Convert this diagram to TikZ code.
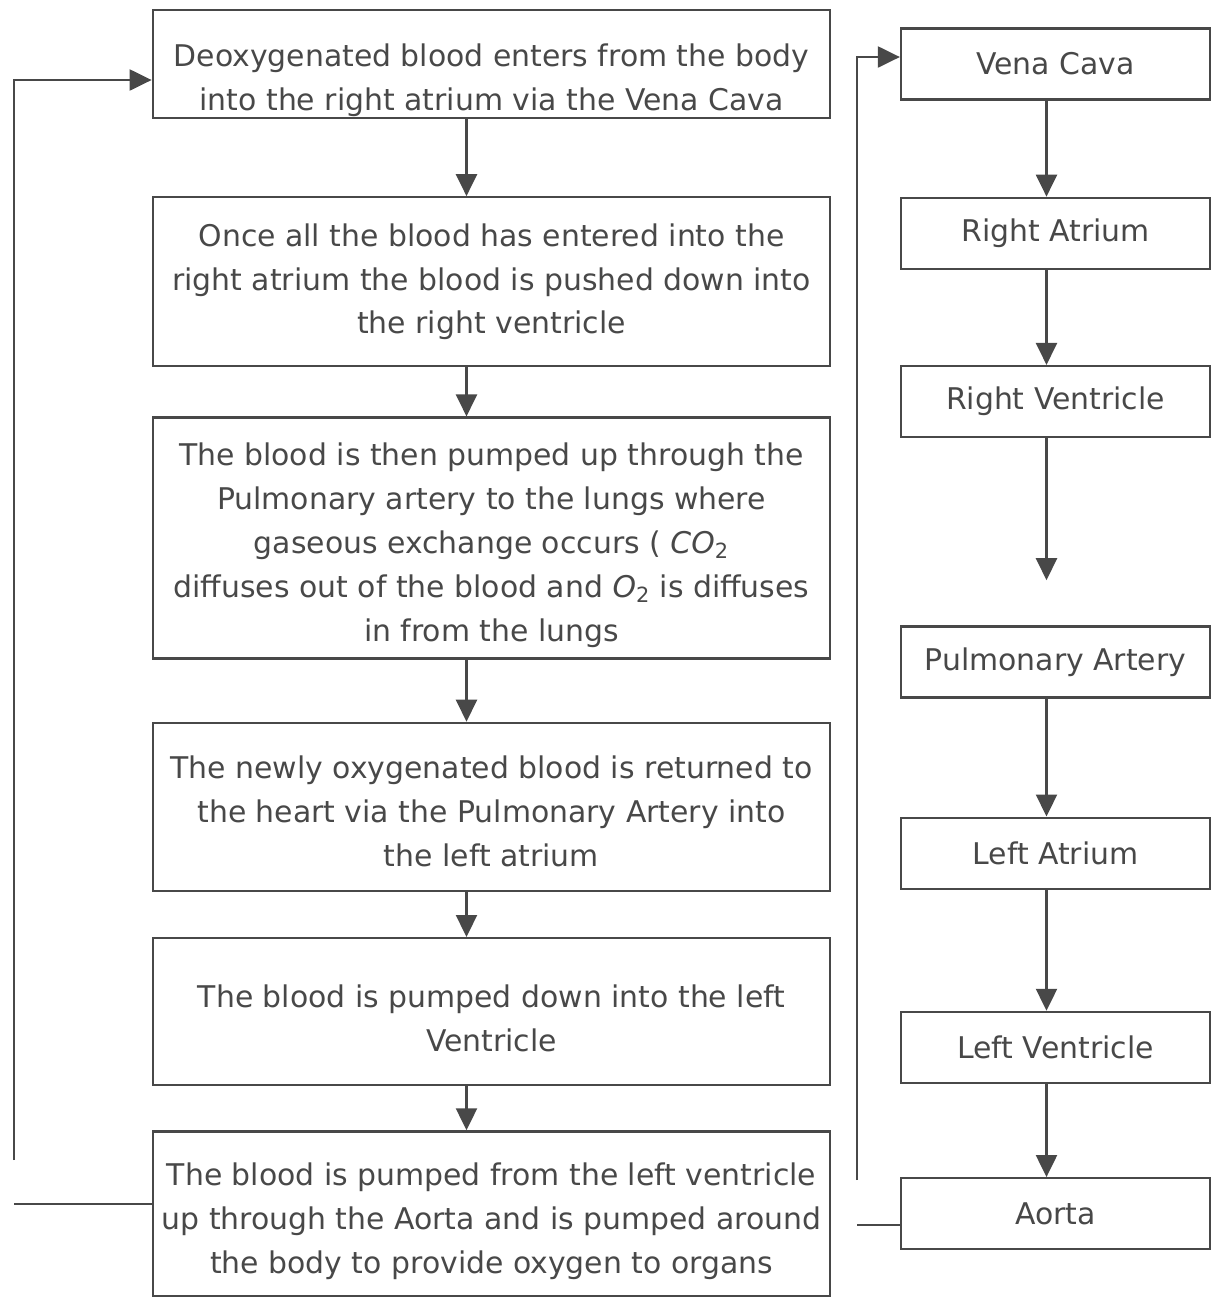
\documentclass[tikz,border=0pt]{standalone}
\usepackage{fontspec}
\setmainfont{DejaVu Sans}
\usetikzlibrary{positioning, arrows.meta}
\definecolor{inkgray}{HTML}{484848}
\newcommand{\dropline}[1]{\rule{0pt}{#1}}

\begin{document}
\begin{tikzpicture}[
    >={Triangle[width=0.42cm,length=0.44cm]},
    stepbox/.style={
        rectangle, draw=inkgray, line width=1.3pt,
        minimum width=13.55cm, minimum height=#1, inner sep=0pt,
        font=\fontsize{17}{25}\selectfont, text=inkgray, align=center
    },
    partbox/.style={
        rectangle, draw=inkgray, line width=1.3pt,
        minimum width=6.18cm, minimum height=1.42cm,
        font=\fontsize{17}{25}\selectfont, text=inkgray
    },
    flow/.style={->, line width=1.3pt, draw=inkgray},
    loop/.style={line width=1.3pt, draw=inkgray}
]
\useasboundingbox (0,0) rectangle (24.44,-25.94);

%% ---- Left column: description of each step ----
\node[stepbox=2.16cm] (enter) at (9.83,-1.28) {%
    \dropline{1.1cm}Deoxygenated blood enters from the body\\
    into the right atrium via the Vena Cava};
\node[stepbox=3.38cm, below=1.54cm of enter] (fill) {%
    Once all the blood has entered into the\\
    right atrium the blood is pushed down into\\
    the right ventricle};
\node[stepbox=4.82cm, below=0.98cm of fill] (lungs) {%
    \dropline{0.74cm}The blood is then pumped up through the\\
    Pulmonary artery to the lungs where\\
    gaseous exchange occurs ( \textit{CO}\textsubscript{2}\\
    diffuses out of the blood and \textit{O}\textsubscript{2} is diffuses\\
    in from the lungs};
\node[stepbox=3.36cm, below=1.24cm of lungs] (return) {%
    \dropline{0.62cm}The newly oxygenated blood is returned to\\
    the heart via the Pulmonary Artery into\\
    the left atrium};
\node[stepbox=2.94cm, below=0.90cm of return] (down) {%
    \dropline{0.74cm}The blood is pumped down into the left\\
    Ventricle};
\node[stepbox=3.30cm, below=0.88cm of down] (body) {%
    \dropline{0.74cm}The blood is pumped from the left ventricle\\
    up through the Aorta and is pumped around\\
    the body to provide oxygen to organs};

\foreach \a/\b in {enter/fill, fill/lungs, lungs/return, return/down, down/body}
    \draw[flow] ([xshift=-0.5cm]\a.south) -- ([xshift=-0.5cm]\b.north);

%% ---- Right column: parts of the heart ----
\node[partbox] (vcava) at (21.11,-1.28) {Vena Cava};
\node[partbox, below=1.92cm of vcava] (ratrium) {Right Atrium};
\node[partbox, below=1.90cm of ratrium] (rventr) {Right Ventricle};
\node[partbox, below=3.74cm of rventr] (partery) {Pulmonary Artery};
\node[partbox, below=2.36cm of partery] (latrium) {Left Atrium};
\node[partbox, below=2.42cm of latrium] (lventr) {Left Ventricle};
\node[partbox, below=1.86cm of lventr] (aorta) {Aorta};

\foreach \a/\b in {vcava/ratrium, ratrium/rventr, partery/latrium, latrium/lventr, lventr/aorta}
    \draw[flow] ([xshift=-0.18cm]\a.south) -- ([xshift=-0.18cm]\b.north);
\draw[flow, shorten >=0.9cm] ([xshift=-0.18cm]rventr.south) -- ([xshift=-0.18cm]partery.north);

%% ---- Return loops ----
\coordinate (lloopbot) at (0.28,-23.2);
\coordinate (lloopend) at (0.28,-24.08);
\draw[flow] (lloopbot) |- ([yshift=-0.32cm]enter.west);
\draw[loop] (body.west |- lloopend) -- (lloopend);

\coordinate (rloopbot) at (17.14,-23.6);
\coordinate (rloopend) at (17.14,-24.5);
\draw[flow] (rloopbot) |- ([yshift=0.14cm]vcava.west);
\draw[loop] (aorta.west |- rloopend) -- (rloopend);

\end{tikzpicture}
\end{document}
